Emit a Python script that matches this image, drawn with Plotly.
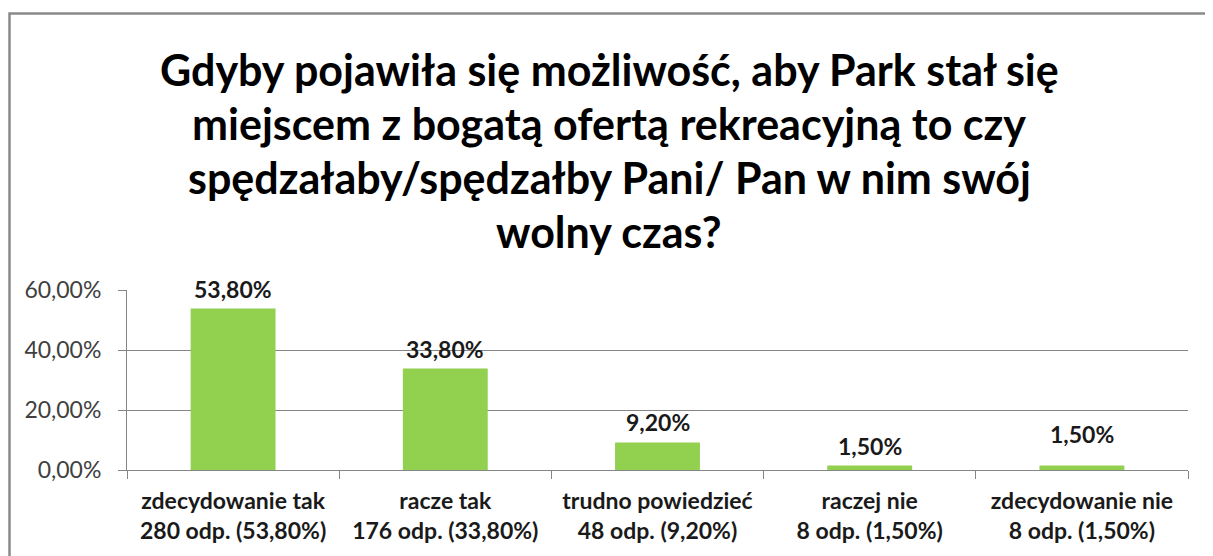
import plotly.graph_objects as go

categories = ["zdecydowanie tak<br>280 odp. (53,80%)",
              "racze tak<br>176 odp. (33,80%)",
              "trudno powiedzieć<br>48 odp. (9,20%)",
              "raczej nie<br>8 odp. (1,50%)",
              "zdecydowanie nie<br>8 odp. (1,50%)"]
values = [53.8, 33.8, 9.2, 1.5, 1.5]
value_labels = ["53,80%", "33,80%", "9,20%", "1,50%", "1,50%"]
tick_vals = [0, 20, 40, 60]
tick_text = ["0,00%", "20,00%", "40,00%", "60,00%"]
title_lines = ["Gdyby pojawiła się możliwość, aby Park stał się",
               "miejscem z bogatą ofertą rekreacyjną to czy",
               "spędzałaby/spędzałby Pani/ Pan w nim swój",
               "wolny czas?"]

# page body has an 8px margin; figure coordinates = screen coordinates - 8
OFF = 8
W, H = 1213 - OFF, 556 - OFF
L, R, T, B = 127 - OFF, 1213 - 1188, 290 - OFF, 556 - 470
pw, ph = W - L - R, H - T - B

def px_x(x):
    return (x - OFF - L) / pw

def px_y(y):
    return (H - B - (y - OFF)) / ph

FONT = "Lato"
fig = go.Figure()
fig.add_trace(go.Bar(x=categories, y=values, marker_color="#92D050",
                     marker_line_width=0, width=0.4, hoverinfo="skip"))

label_shift = [4, 4, 4, 4, 16]
for c, v, t, s in zip(categories, values, value_labels, label_shift):
    fig.add_annotation(x=c, y=v, text="<b>" + t + "</b>", showarrow=False,
                       yanchor="bottom", yshift=s,
                       font=dict(family=FONT, size=23, color="#1a1a1a"))

title_y = [70, 123, 177, 231]
for line, yy in zip(title_lines, title_y):
    fig.add_annotation(xref="paper", yref="paper", x=px_x(609), y=px_y(yy),
                       text="<b>" + line + "</b>", showarrow=False,
                       xanchor="center", yanchor="middle",
                       font=dict(family=FONT, size=43, color="#000000"))

fig.add_shape(type="rect", xref="paper", yref="paper",
              x0=px_x(9.5), x1=px_x(1240), y0=px_y(600), y1=px_y(13.5),
              line=dict(color="#8a8a8a", width=2.5), layer="above")

fig.update_layout(
    width=W, height=H,
    margin=dict(l=L, r=R, t=T, b=B, autoexpand=False),
    plot_bgcolor="white", paper_bgcolor="white",
    showlegend=False, bargap=0.6,
    xaxis=dict(type="category", tickson="boundaries", ticks="outside",
               ticklen=8, tickcolor="#868686", showline=True,
               linecolor="#868686", linewidth=1, showgrid=False,
               ticklabelstandoff=10,
               tickfont=dict(family=FONT, size=23, color="#1a1a1a"),
               tickprefix="<b>", ticksuffix="</b>"),
    yaxis=dict(range=[0, 60], tickvals=tick_vals, ticktext=tick_text,
               ticks="outside", ticklen=8, tickcolor="#868686",
               showline=True, linecolor="#868686", linewidth=1,
               showgrid=True, gridcolor="#868686", gridwidth=1,
               zeroline=False, ticklabelstandoff=12,
               tickfont=dict(family=FONT, size=23, color="#404040")),
)
fig.write_html("out.html")
